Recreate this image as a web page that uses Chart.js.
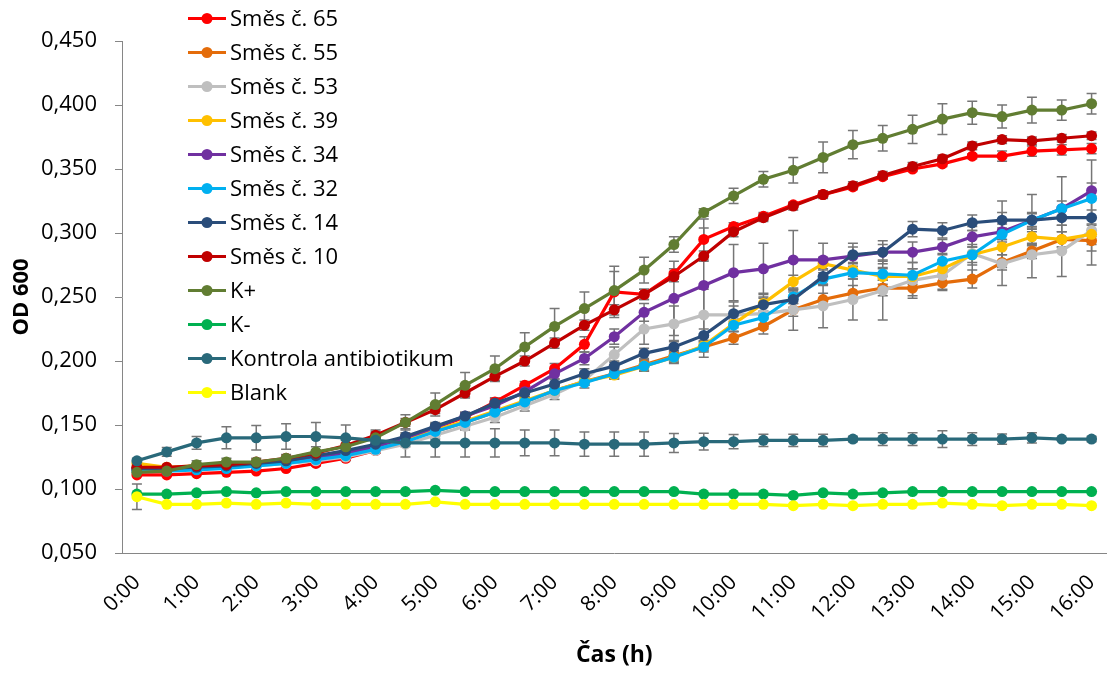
<!DOCTYPE html>
<html>
<head>
<meta charset="utf-8">
<script src="https://cdn.jsdelivr.net/npm/chart.js@4/dist/chart.umd.min.js"></script>
<style>
  html, body { margin: 0; padding: 0; background: #ffffff; }
  #wrap { width: 1112px; height: 673px; position: relative; }
</style>
</head>
<body>
<div id="wrap"><canvas id="c" width="1112" height="673"></canvas></div>
<script>
// Measurement times (every 30 min)
const times = ['0:00','0:30','1:00','1:30','2:00','2:30','3:00','3:30','4:00','4:30','5:00','5:30',
  '6:00','6:30','7:00','7:30','8:00','8:30','9:00','9:30','10:00','10:30','11:00','11:30',
  '12:00','12:30','13:00','13:30','14:00','14:30','15:00','15:30','16:00'];

// Y axis range and tick step
const yMin = 0.05;
const yMax = 0.45;
const yStep = 0.05;

// Mean OD600 per sample
const smes65 = [0.111,0.111,0.112,0.113,0.114,0.116,0.120,0.124,0.130,0.140,0.148,0.156,0.168,0.181,0.194,0.213,0.254,0.252,0.268,0.295,0.305,0.313,0.322,0.330,0.336,0.344,0.350,0.354,0.360,0.360,0.364,0.365,0.366];
const smes55 = [0.116,0.116,0.117,0.118,0.119,0.121,0.124,0.127,0.132,0.138,0.145,0.152,0.160,0.168,0.177,0.184,0.190,0.197,0.204,0.211,0.218,0.227,0.240,0.248,0.253,0.257,0.257,0.261,0.264,0.277,0.286,0.295,0.294];
const smes53 = [0.116,0.115,0.116,0.117,0.118,0.120,0.122,0.125,0.130,0.135,0.142,0.149,0.156,0.165,0.174,0.185,0.205,0.225,0.229,0.236,0.236,0.237,0.240,0.243,0.248,0.255,0.263,0.267,0.284,0.276,0.283,0.286,0.302];
const smes39 = [0.120,0.117,0.118,0.119,0.120,0.122,0.125,0.128,0.133,0.139,0.146,0.153,0.161,0.169,0.177,0.184,0.189,0.196,0.203,0.212,0.229,0.245,0.262,0.276,0.271,0.266,0.266,0.272,0.283,0.289,0.297,0.295,0.299];
const smes34 = [0.115,0.115,0.116,0.117,0.119,0.121,0.124,0.128,0.133,0.140,0.148,0.157,0.165,0.176,0.190,0.202,0.219,0.238,0.249,0.259,0.269,0.272,0.279,0.279,0.282,0.285,0.285,0.289,0.297,0.301,0.310,0.319,0.333];
const smes32 = [0.114,0.114,0.115,0.116,0.118,0.120,0.123,0.126,0.131,0.137,0.145,0.152,0.160,0.168,0.177,0.183,0.190,0.196,0.203,0.211,0.228,0.234,0.250,0.264,0.269,0.268,0.267,0.278,0.283,0.299,0.310,0.319,0.327];
const smes14 = [0.116,0.116,0.117,0.118,0.120,0.122,0.126,0.130,0.135,0.141,0.149,0.157,0.167,0.175,0.182,0.190,0.196,0.206,0.211,0.220,0.237,0.244,0.248,0.266,0.283,0.285,0.303,0.302,0.308,0.310,0.310,0.312,0.312];
const smes10 = [0.117,0.117,0.118,0.119,0.121,0.124,0.128,0.134,0.142,0.152,0.162,0.175,0.188,0.200,0.214,0.228,0.240,0.252,0.266,0.282,0.301,0.312,0.321,0.330,0.337,0.345,0.352,0.358,0.368,0.373,0.372,0.374,0.376];
const kPlus  = [0.113,0.114,0.119,0.121,0.121,0.124,0.129,0.133,0.140,0.152,0.166,0.181,0.194,0.211,0.227,0.241,0.255,0.271,0.291,0.316,0.329,0.342,0.349,0.359,0.369,0.374,0.381,0.389,0.394,0.391,0.396,0.396,0.401];
const kMinus = [0.096,0.096,0.097,0.098,0.097,0.098,0.098,0.098,0.098,0.098,0.099,0.098,0.098,0.098,0.098,0.098,0.098,0.098,0.098,0.096,0.096,0.096,0.095,0.097,0.096,0.097,0.098,0.098,0.098,0.098,0.098,0.098,0.098];
const kontrolaAtb = [0.122,0.129,0.136,0.140,0.140,0.141,0.141,0.140,0.138,0.136,0.136,0.136,0.136,0.136,0.136,0.135,0.135,0.135,0.136,0.137,0.137,0.138,0.138,0.138,0.139,0.139,0.139,0.139,0.139,0.139,0.140,0.139,0.139];
const blank  = [0.094,0.088,0.088,0.089,0.088,0.089,0.088,0.088,0.088,0.088,0.090,0.088,0.088,0.088,0.088,0.088,0.088,0.088,0.088,0.088,0.088,0.088,0.087,0.088,0.087,0.088,0.088,0.089,0.088,0.087,0.088,0.088,0.087];

// Standard deviations (± error bars)
const sd65 = [0,0,0,0,0,0,0.002,0.002,0.002,0.003,0.003,0.003,0.003,0.003,0.004,0.006,0.020,0.004,0.004,0.016,0.003,0.003,0.002,0.002,0.002,0.002,0.002,0.002,0.002,0.004,0.004,0.004,0.004];
const sd55 = [0,0,0,0,0,0,0,0,0,0,0.002,0.002,0.003,0.003,0.003,0.003,0.003,0.004,0.004,0.004,0.005,0.006,0.005,0.005,0.006,0.006,0.006,0.005,0.007,0.006,0.006,0.006,0.008];
const sd53 = [0,0,0,0,0,0,0,0,0.002,0.002,0.003,0.003,0.004,0.004,0.004,0.004,0.006,0.012,0.014,0.020,0.010,0.012,0.016,0.017,0.016,0.023,0.014,0.012,0.018,0.017,0.018,0.020,0.027];
const sd39 = [0,0,0,0,0,0,0,0,0,0,0.002,0.002,0.003,0.003,0.003,0.003,0.003,0.004,0.004,0.004,0.006,0.008,0.005,0.005,0.005,0.006,0.006,0.006,0.006,0.006,0.006,0.006,0.008];
const sd34 = [0,0,0,0,0,0,0,0,0,0.002,0.003,0.003,0.003,0.004,0.004,0.005,0.006,0.007,0.029,0.045,0.022,0.020,0.023,0.013,0.010,0.009,0.008,0.006,0.008,0.006,0.005,0.006,0.006];
const sd32 = [0,0,0,0,0,0,0,0,0,0,0.002,0.002,0.003,0.004,0.004,0.004,0.004,0.004,0.005,0.008,0.005,0.005,0.005,0.005,0.005,0.005,0.005,0.006,0.008,0.026,0.020,0.025,0.030];
const sd14 = [0,0,0,0,0,0,0,0,0.002,0.003,0.003,0.003,0.004,0.004,0.004,0.004,0.004,0.004,0.005,0.005,0.006,0.006,0.006,0.006,0.006,0.006,0.006,0.006,0.006,0.006,0.006,0.006,0.006];
const sd10 = [0,0,0,0,0,0,0,0,0.002,0.003,0.003,0.003,0.003,0.004,0.004,0.004,0.004,0.004,0.004,0.004,0.004,0.003,0.003,0.003,0.003,0.003,0.003,0.003,0.003,0.003,0.003,0.003,0.003];
const sdKPlus = [0.002,0.002,0.003,0.003,0.003,0.003,0.004,0.005,0.005,0.006,0.009,0.010,0.010,0.011,0.014,0.013,0.015,0.010,0.006,0.003,0.006,0.006,0.010,0.012,0.011,0.010,0.011,0.012,0.009,0.009,0.010,0.008,0.008];
const sdKMinus = [0,0,0,0,0,0,0,0,0,0,0,0,0,0,0,0,0,0,0,0,0,0,0,0,0,0,0,0,0,0,0,0,0];
const sdKontrola = [0.002,0.0035,0.005,0.0086,0.0096,0.010,0.011,0.010,0.008,0.011,0.011,0.011,0.011,0.010,0.010,0.0095,0.0095,0.0095,0.0074,0.0065,0.0056,0.0047,0.0047,0.0047,0.002,0.005,0.005,0.0065,0.005,0.004,0.004,0.001,0.002];
const sdBlank = [0.010,0,0,0,0,0,0,0,0,0,0,0,0,0,0,0,0,0,0,0,0,0,0,0,0,0,0,0,0,0,0,0,0];

const seriesNames = ['Směs č. 65','Směs č. 55','Směs č. 53','Směs č. 39','Směs č. 34','Směs č. 32',
  'Směs č. 14','Směs č. 10','K+','K-','Kontrola antibiotikum','Blank'];
const seriesValues = [smes65, smes55, smes53, smes39, smes34, smes32, smes14, smes10, kPlus, kMinus, kontrolaAtb, blank];
const seriesErrors = [sd65, sd55, sd53, sd39, sd34, sd32, sd14, sd10, sdKPlus, sdKMinus, sdKontrola, sdBlank];

// Line colours
const seriesColors = ['#FF0000','#E46C0A','#BFBFBF','#FFC000','#7030A0','#00B0F0',
  '#2A4D7A','#C00000','#617D32','#00B050','#29697A','#FFFF00'];

const FONT = "'Open Sans', 'DejaVu Sans', sans-serif";
const AXIS_COLOR = '#868686';

// Vertical ± bars with caps, drawn under the lines
const errorBarsPlugin = {
  id: 'errorBars',
  beforeDatasetsDraw(chart) {
    const ctx = chart.ctx;
    const xs = chart.scales.x, ys = chart.scales.y;
    const cap = 5;
    ctx.save();
    ctx.strokeStyle = '#767676';
    ctx.lineWidth = 1.5;
    chart.data.datasets.forEach((ds) => {
      const err = ds.errors;
      if (!err) return;
      ds.data.forEach((v, i) => {
        const e = err[i];
        if (!e) return;
        const px = xs.getPixelForValue(i);
        const top = ys.getPixelForValue(v + e);
        const bot = ys.getPixelForValue(v - e);
        ctx.beginPath();
        ctx.moveTo(px, top); ctx.lineTo(px, bot);
        ctx.moveTo(px - cap, top); ctx.lineTo(px + cap, top);
        ctx.moveTo(px - cap, bot); ctx.lineTo(px + cap, bot);
        ctx.stroke();
      });
    });
    ctx.restore();
  }
};

// Legend column in the upper-left of the plot
const legendPlugin = {
  id: 'columnLegend',
  afterDraw(chart) {
    const ctx = chart.ctx;
    const area = chart.chartArea;
    const x0 = area.left + 66;
    const y0 = area.top - 22.5;
    const rowH = 34;
    ctx.save();
    ctx.font = '22px ' + FONT;
    ctx.textBaseline = 'middle';
    ctx.textAlign = 'left';
    chart.data.datasets.forEach((ds, i) => {
      const yy = y0 + rowH * i;
      ctx.strokeStyle = ds.borderColor;
      ctx.lineWidth = 3.2;
      ctx.beginPath();
      ctx.moveTo(x0, yy); ctx.lineTo(x0 + 38, yy);
      ctx.stroke();
      ctx.fillStyle = ds.pointBackgroundColor;
      ctx.beginPath();
      ctx.arc(x0 + 19, yy, 5.5, 0, Math.PI * 2);
      ctx.fill();
      ctx.fillStyle = '#000000';
      ctx.fillText(ds.label, x0 + 42, yy + 1);
    });
    ctx.restore();
  }
};

const datasets = seriesNames.map((name, i) => ({
  label: name,
  data: seriesValues[i],
  errors: seriesErrors[i],
  borderColor: seriesColors[i],
  backgroundColor: seriesColors[i],
  pointBackgroundColor: seriesColors[i],
  pointBorderColor: seriesColors[i],
  pointBorderWidth: 0,
  pointRadius: 5.5,
  borderWidth: 3.2,
  tension: 0,
  fill: false,
  order: seriesNames.length - i
}));

new Chart(document.getElementById('c'), {
  type: 'line',
  data: { labels: times, datasets },
  options: {
    responsive: false,
    animation: false,
    devicePixelRatio: 1,
    layout: { padding: { top: 41, right: 0, bottom: 0, left: 9 } },
    plugins: {
      legend: { display: false },
      tooltip: { enabled: false }
    },
    scales: {
      x: {
        type: 'category',
        offset: true,
        grid: { display: false, drawTicks: false },
        border: { display: true, color: AXIS_COLOR, width: 1 },
        ticks: {
          autoSkip: false,
          maxRotation: 45,
          minRotation: 45,
          padding: 17,
          color: '#000000',
          font: { family: FONT, size: 21 },
          callback: (v, i) => (i % 2 === 0 ? times[i] : '')
        },
        title: {
          display: true,
          text: 'Čas (h)',
          color: '#000000',
          font: { family: FONT, size: 23, weight: 'bold' },
          padding: { top: 0, bottom: 4 }
        },
        afterFit: (s) => { s.height = 120; s.paddingLeft = 0; s.paddingRight = 0; }
      },
      y: {
        min: yMin,
        max: yMax,
        ticks: {
          stepSize: yStep,
          padding: 18,
          color: '#000000',
          font: { family: FONT, size: 22 },
          callback: (v) => Number(v).toFixed(3).replace('.', ',')
        },
        grid: { display: true, drawOnChartArea: false, drawTicks: true, tickLength: 7, color: AXIS_COLOR },
        border: { display: true, color: AXIS_COLOR, width: 1 },
        title: {
          display: true,
          text: 'OD 600',
          color: '#000000',
          font: { family: FONT, size: 22, weight: 'bold' },
          padding: { top: 0, bottom: 0 }
        },
        afterFit: (s) => { s.width = 113; s.paddingTop = 0; s.paddingBottom = 0; }
      }
    }
  },
  plugins: [errorBarsPlugin, legendPlugin]
});
</script>
</body>
</html>
